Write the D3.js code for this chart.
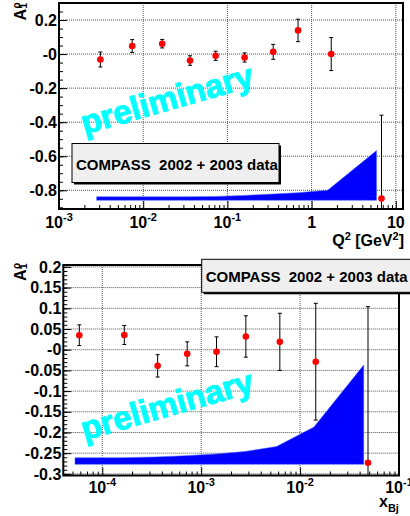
<!DOCTYPE html>
<html>
<head>
<meta charset="utf-8">
<script src="https://cdn.jsdelivr.net/npm/d3@7"></script>
<style>
body{margin:0;background:#fff;}
svg{display:block;font-family:"Liberation Sans",Arial,Helvetica,sans-serif;font-weight:bold;}
</style>
</head>
<body>
<svg id="chart" width="410" height="516"></svg>
<script>
// A1 rho versus Q2
var q2Vals  = [0.0031, 0.0074, 0.0168, 0.036, 0.0725, 0.16, 0.35, 0.69, 1.71, 6.76];
var q2Asym  = [-0.032, 0.047, 0.061, -0.038, -0.010, -0.020, 0.013, 0.139, 0.000, -0.849];
var q2Err   = [0.044, 0.038, 0.025, 0.028, 0.027, 0.027, 0.044, 0.066, 0.097, 0.49];
var q2BandX   = [0.0028, 0.0074, 0.0168, 0.036, 0.0725, 0.16, 0.35, 0.69, 1.55, 5.9];
var q2BandTop = [-0.838, -0.838, -0.838, -0.838, -0.836, -0.830, -0.822, -0.814, -0.800, -0.567];
var q2BandBase = -0.859;
var q2Ticks    = [1e-3, 1e-2, 1e-1, 1, 10];
var q2TickBase = ["10", "10", "10", "1", "10"];
var q2TickExp  = ["-3", "-2", "-1", "", ""];
var q2YTicks  = [0.2, 0, -0.2, -0.4, -0.6, -0.8];
var q2YLabels = ["0.2", "-0", "-0.2", "-0.4", "-0.6", "-0.8"];

// A1 rho versus x_Bj
var xbjVals = [5.86e-5, 1.67e-4, 3.63e-4, 7.22e-4, 1.43e-3, 2.83e-3, 6.24e-3, 0.0144, 0.0486];
var xbjAsym = [0.035, 0.0355, -0.039, -0.010, -0.005, 0.032, 0.019, -0.029, -0.273];
var xbjErr  = [0.025, 0.023, 0.027, 0.029, 0.036, 0.050, 0.069, 0.141, 0.377];
var xbjBandX   = [5.3e-5, 1.6e-4, 3.5e-4, 7.0e-4, 1.4e-3, 2.75e-3, 5.78e-3, 0.0138, 0.044];
var xbjBandTop = [-0.261, -0.261, -0.259, -0.256, -0.252, -0.246, -0.234, -0.187, -0.037];
var xbjBandBase = -0.277;
var xbjTicks    = [1e-4, 1e-3, 1e-2, 1e-1];
var xbjTickBase = ["10", "10", "10", "10"];
var xbjTickExp  = ["-4", "-3", "-2", "-1"];
var xbjYTicks  = [0.2, 0.15, 0.1, 0.05, 0, -0.05, -0.1, -0.15, -0.2, -0.25, -0.3];
var xbjYLabels = ["0.2", "0.15", "0.1", "0.05", "-0", "-0.05", "-0.1", "-0.15", "-0.2", "-0.25", "-0.3"];

var svg = d3.select("#chart");

function drawPanel(o){
	var x = d3.scaleLog().domain(o.xDomain).range([o.left, o.right]),
		y = d3.scaleLinear().domain(o.yDomain).range([o.bottom, o.top]);

	svg.append("clipPath").attr("id", o.id + "clip")
		.append("rect")
		.attr("x", o.left).attr("y", o.top)
		.attr("width", o.right - o.left).attr("height", o.bottom - o.top);

	var g = svg.append("g");

	//grid
	g.selectAll(".vgrid").data(o.xTicks).enter().append("line")
		.attr("x1", function(d){return x(d);}).attr("x2", function(d){return x(d);})
		.attr("y1", o.top).attr("y2", o.bottom)
		.style("stroke", "#555").style("stroke-dasharray", "1,1");
	g.selectAll(".hgrid").data(o.yTicks).enter().append("line")
		.attr("x1", o.left).attr("x2", o.right)
		.attr("y1", function(d){return y(d);}).attr("y2", function(d){return y(d);})
		.style("stroke", "#555").style("stroke-dasharray", "1,1");

	var inner = g.append("g").attr("clip-path", "url(#" + o.id + "clip)");

	//systematic band
	var band = d3.area()
		.x(function(d, i){return x(o.bandX[i]);})
		.y0(y(o.bandBase))
		.y1(function(d){return y(d);});
	inner.append("path")
		.datum(o.bandTop)
		.attr("d", band)
		.style("fill", "#0000ff")
		.style("stroke", "#4060ff").style("stroke-width", 0.5);

	//preliminary stamp
	g.append("text")
		.attr("transform", "translate(" + o.stamp[0] + "," + o.stamp[1] + ") rotate(-16)")
		.attr("text-anchor", "middle")
		.style("font-size", "33px")
		.style("fill", "#00ffff")
		.style("stroke", "#00ffff").style("stroke-width", 1)
		.text("preliminary");

	//error bars
	var eb = inner.selectAll(".eb").data(o.vals).enter().append("g");
	eb.append("line")
		.attr("x1", function(d){return x(d);}).attr("x2", function(d){return x(d);})
		.attr("y1", function(d, i){return y(o.asym[i] + o.err[i]);})
		.attr("y2", function(d, i){return y(o.asym[i] - o.err[i]);})
		.style("stroke", "#000").style("stroke-width", 1);
	[1, -1].forEach(function(s){
		eb.append("line")
			.attr("x1", function(d){return x(d) - 2;}).attr("x2", function(d){return x(d) + 2;})
			.attr("y1", function(d, i){return y(o.asym[i] + s * o.err[i]);})
			.attr("y2", function(d, i){return y(o.asym[i] + s * o.err[i]);})
			.style("stroke", "#000").style("stroke-width", 1);
	});

	inner.selectAll(".pt").data(o.vals).enter().append("circle")
		.attr("cx", function(d){return x(d);})
		.attr("cy", function(d, i){return y(o.asym[i]);})
		.attr("r", 3.3)
		.style("fill", "#ff0000");

	//axes, ticks inside the frame
	var yMinor = d3.range(o.yDomain[0], o.yDomain[1], o.yMinorStep)
		.map(function(v){return Math.round(v / o.yMinorStep) * o.yMinorStep;})
		.filter(function(v){return v >= o.yDomain[0] && v <= o.yDomain[1];});
	g.append("g").attr("transform", "translate(" + o.left + ",0)")
		.call(d3.axisLeft(y).tickValues(yMinor).tickSize(-4).tickFormat(""))
		.call(function(a){a.select(".domain").remove();});
	g.append("g").attr("transform", "translate(" + o.left + ",0)")
		.call(d3.axisLeft(y).tickValues(o.yTicks).tickSize(-8).tickPadding(2)
			.tickFormat(function(d, i){return o.yLabels[i];}))
		.call(function(a){
			a.select(".domain").remove();
			a.selectAll("text").style("font-size", "16px").style("font-family", "inherit")
				.style("font-weight", "bold").style("fill", "#000");
		});

	var xMinor = [];
	var lo = Math.floor(Math.log10(o.xDomain[0])), hi = Math.ceil(Math.log10(o.xDomain[1]));
	for(var e = lo; e < hi; e++){
		for(var k = 2; k < 10; k++){
			var v = k * Math.pow(10, e);
			if(v >= o.xDomain[0] && v <= o.xDomain[1]) xMinor.push(v);
		}
	}
	g.append("g").attr("transform", "translate(0," + o.bottom + ")")
		.call(d3.axisBottom(x).tickValues(xMinor).tickSize(-4).tickFormat(""))
		.call(function(a){a.select(".domain").remove();});
	g.append("g").attr("transform", "translate(0," + o.bottom + ")")
		.call(d3.axisBottom(x).tickValues(o.xTicks).tickSize(-8).tickFormat(""))
		.call(function(a){a.select(".domain").remove();});

	var xl = g.selectAll(".xl").data(o.xTicks).enter().append("text")
		.attr("x", function(d){return x(d);})
		.attr("y", o.xLabelY)
		.attr("text-anchor", "middle")
		.style("font-size", "16px");
	xl.append("tspan").text(function(d, i){return o.tickBase[i];});
	xl.append("tspan").attr("dy", -7).style("font-size", "11px")
		.text(function(d, i){return o.tickExp[i];});

	//frame
	g.append("rect")
		.attr("x", o.left).attr("y", o.top)
		.attr("width", o.right - o.left).attr("height", o.bottom - o.top)
		.style("fill", "none").style("stroke", "#000").style("stroke-width", 2);

	//y title A_1^rho
	var yt = g.append("g").attr("transform", "translate(25.5," + o.yTitleY + ") rotate(-90)");
	yt.append("text").attr("x", 0).attr("y", 0).style("font-size", "16px").text("A");
	yt.append("text").attr("x", 12).attr("y", -6).style("font-size", "10px").text("\u03c1");
	yt.append("text").attr("x", 12).attr("y", 1).style("font-size", "10px").text("1");

	//legend box
	g.append("rect")
		.attr("x", o.box[0] + 2).attr("y", o.box[1] + 2)
		.attr("width", o.box[2]).attr("height", o.box[3])
		.style("fill", "#000");
	g.append("rect")
		.attr("x", o.box[0]).attr("y", o.box[1])
		.attr("width", o.box[2]).attr("height", o.box[3])
		.style("fill", "#efefef").style("stroke", "#000").style("stroke-width", 1);
	g.append("text")
		.attr("x", o.box[0] + o.boxText[0]).attr("y", o.box[1] + o.boxText[1])
		.style("font-size", "15px")
		.text("COMPASS\u00a0\u00a02002 + 2003 data");

	return g;
}

var top1 = drawPanel({
	id: "q2", left: 59, right: 403, top: 3, bottom: 209,
	xDomain: [1e-3, 12.17], yDomain: [-0.91, 0.30], yMinorStep: 0.05,
	xTicks: q2Ticks, tickBase: q2TickBase, tickExp: q2TickExp, xLabelY: 228,
	yTicks: q2YTicks, yLabels: q2YLabels,
	vals: q2Vals, asym: q2Asym, err: q2Err,
	bandX: q2BandX, bandTop: q2BandTop, bandBase: q2BandBase,
	stamp: [170, 110], box: [72, 143.5, 207, 39], boxText: [4, 26], yTitleY: 20.5
});
top1.append("text")
	.attr("x", 404).attr("y", 246).attr("text-anchor", "end")
	.style("font-size", "16px")
	.call(function(t){
		t.append("tspan").text("Q");
		t.append("tspan").attr("dy", -6).style("font-size", "11px").text("2");
		t.append("tspan").attr("dy", 6).text(" [GeV");
		t.append("tspan").attr("dy", -6).style("font-size", "11px").text("2");
		t.append("tspan").attr("dy", 6).text("]");
	});

var bot = drawPanel({
	id: "xbj", left: 63.3, right: 399, top: 265, bottom: 475.5,
	xDomain: [Math.pow(10, -4.394), 0.1], yDomain: [-0.3039, 0.2046], yMinorStep: 0.01,
	xTicks: xbjTicks, tickBase: xbjTickBase, tickExp: xbjTickExp, xLabelY: 493,
	yTicks: xbjYTicks, yLabels: xbjYLabels,
	vals: xbjVals, asym: xbjAsym, err: xbjErr,
	bandX: xbjBandX, bandTop: xbjBandTop, bandBase: xbjBandBase,
	stamp: [170, 416], box: [201.7, 259.3, 215, 33], boxText: [4, 23], yTitleY: 281
});
bot.append("text")
	.attr("x", 379).attr("y", 507)
	.style("font-size", "16px")
	.call(function(t){
		t.append("tspan").text("x");
		t.append("tspan").attr("dy", 5).style("font-size", "11px").text("Bj");
	});
</script>
</body>
</html>
